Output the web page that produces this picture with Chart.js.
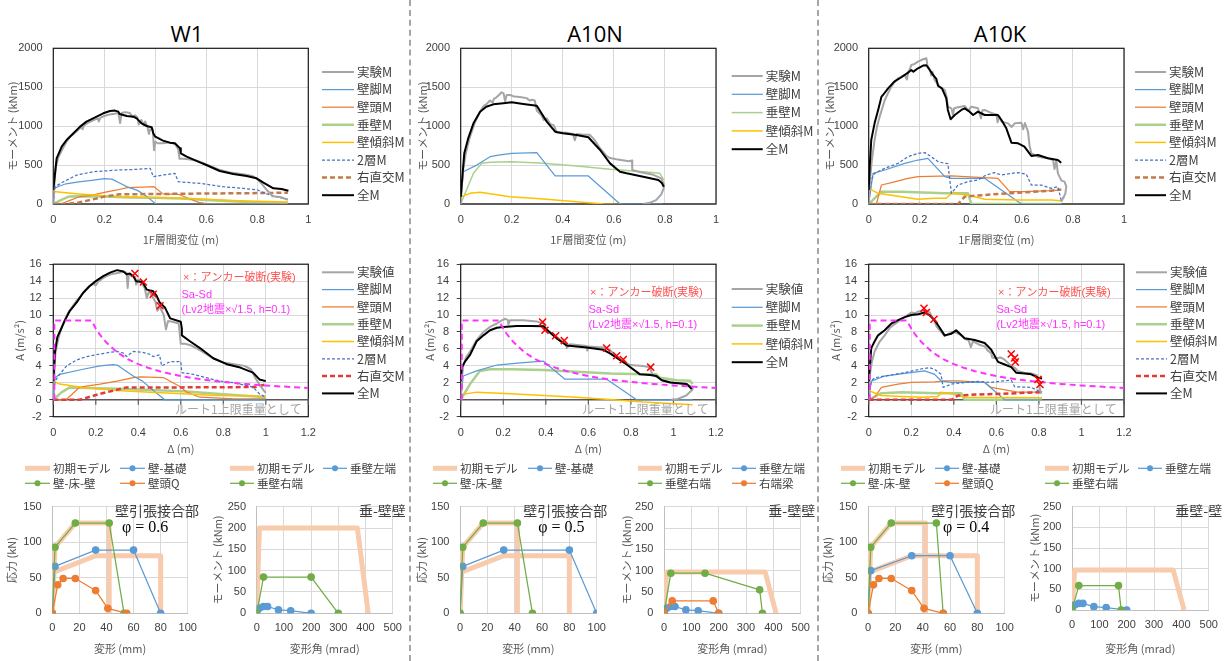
<!DOCTYPE html>
<html lang="ja">
<head>
<meta charset="utf-8">
<script src="https://cdn.jsdelivr.net/npm/chart.js@4.4.1/dist/chart.umd.min.js"></script>
<style>
  html, body { margin: 0; padding: 0; background: #fff; }
  body { width: 1226px; height: 661px; overflow: hidden; position: relative; font-family: "Noto Sans CJK JP", sans-serif; }
  canvas { position: absolute; }
  .ttl { position: absolute; top: 18px; line-height: 26px; font: 22px "Open Sans", "Liberation Sans", Arial, sans-serif; color: #000; transform: translateX(-50%); white-space: nowrap; }
  .sep { position: absolute; top: 0; width: 0; height: 661px; border-left: 2px dashed #a6a6a6; }
</style>
</head>
<body>
<div class="ttl" style="left:187px">W1</div>
<div class="ttl" style="left:595px">A10N</div>
<div class="ttl" style="left:1000px">A10K</div>
<div class="sep" style="left:409px"></div>
<div class="sep" style="left:817px"></div>
<script>
// ---------------- W1 : moment vs 1F drift (m, kNm) ----------------
const w1ExpM = [[0,0],[0.005,300],[0.01,480],[0.02,600],[0.035,700],[0.05,790],[0.065,860],[0.08,900],[0.1,960],[0.11,990],[0.115,960],[0.12,1010],[0.14,1050],[0.16,1080],[0.175,1100],[0.178,1060],[0.185,1110],[0.2,1130],[0.22,1150],[0.24,1160],[0.255,1170],[0.262,1040],[0.268,1170],[0.28,1180],[0.29,1175],[0.3,1170],[0.31,1120],[0.32,1140],[0.33,1110],[0.335,1020],[0.345,1080],[0.355,1010],[0.36,1060],[0.37,980],[0.375,900],[0.38,960],[0.39,960],[0.395,690],[0.4,800],[0.41,780],[0.43,780],[0.45,790],[0.47,780],[0.48,760],[0.49,700],[0.495,580],[0.51,580],[0.53,575],[0.56,560],[0.6,510],[0.65,440],[0.7,400],[0.75,380],[0.78,360],[0.8,320],[0.82,250],[0.84,170],[0.86,100],[0.89,90],[0.92,55]];
const w1FootM = [[0,0],[0.005,200],[0.02,225],[0.05,260],[0.1,285],[0.15,305],[0.2,325],[0.23,320],[0.26,270],[0.29,220],[0.33,175],[0.37,90],[0.4,5],[0.41,0],[0.92,0]];
const w1HeadM = [[0,0],[0.03,0],[0.06,40],[0.1,90],[0.15,110],[0.2,150],[0.25,180],[0.29,210],[0.35,218],[0.395,222],[0.43,130],[0.49,125],[0.51,100],[0.57,20],[0.6,5],[0.92,0]];
const w1HangM = [[0,0],[0.03,50],[0.06,95],[0.1,100],[0.2,95],[0.3,85],[0.4,80],[0.5,70],[0.6,50],[0.7,35],[0.8,20],[0.92,10]];
const w1TiltM = [[0,160],[0.05,145],[0.1,130],[0.2,105],[0.3,90],[0.4,80],[0.5,75],[0.6,60],[0.7,45],[0.8,35],[0.92,25]];
const w1Story2M = [[0,0],[0.007,222],[0.04,286],[0.092,372],[0.157,414],[0.25,436],[0.327,445],[0.38,458],[0.392,350],[0.43,372],[0.477,394],[0.49,286],[0.575,265],[0.667,222],[0.745,201],[0.8,180],[0.85,115],[0.9,73],[0.92,60]];
const w1OrthoM = [[0,0],[0.05,0],[0.1,20],[0.15,55],[0.2,95],[0.26,125],[0.4,128],[0.6,135],[0.8,140],[0.92,145]];
const w1TotalM = [[0,180],[0.013,587],[0.033,736],[0.052,822],[0.072,886],[0.105,994],[0.13,1058],[0.17,1122],[0.196,1165],[0.222,1195],[0.242,1200],[0.255,1186],[0.26,1156],[0.288,1130],[0.314,1122],[0.327,1100],[0.346,1036],[0.366,1002],[0.386,985],[0.392,908],[0.4,865],[0.43,814],[0.457,788],[0.477,780],[0.497,715],[0.5,651],[0.523,608],[0.575,535],[0.6,501],[0.653,424],[0.706,385],[0.758,360],[0.797,330],[0.824,274],[0.863,201],[0.895,193],[0.922,171]];

// ---------------- W1 : acceleration A vs Δ (m, m/s²) ----------------
const w1AExp = [[0,0],[0.005,3.5],[0.01,5.5],[0.02,6.8],[0.03,7.8],[0.05,9.2],[0.07,10.3],[0.09,11.0],[0.11,11.7],[0.13,12.3],[0.15,12.9],[0.17,13.4],[0.19,13.7],[0.2,13.5],[0.21,13.9],[0.23,14.3],[0.25,14.6],[0.27,14.8],[0.29,14.9],[0.31,15.0],[0.33,15.1],[0.345,15.0],[0.35,13.2],[0.355,14.8],[0.37,14.6],[0.385,14.5],[0.39,13.6],[0.4,14.2],[0.42,13.6],[0.43,13.2],[0.44,12.0],[0.45,12.8],[0.47,12.0],[0.48,11.6],[0.49,10.5],[0.5,11.0],[0.52,10.0],[0.53,8.3],[0.54,9.3],[0.56,9.2],[0.59,9.0],[0.6,6.6],[0.62,6.6],[0.65,6.4],[0.7,5.7],[0.75,4.9],[0.8,4.4],[0.85,4.2],[0.9,4.0],[0.93,3.6],[0.95,2.6],[0.97,1.8],[0.99,1.1],[1.0,0.8]];
const w1AFoot = [[0,0],[0.008,2.6],[0.03,3.0],[0.14,3.6],[0.22,4.0],[0.28,4.15],[0.3,4.1],[0.376,2.8],[0.42,2.2],[0.47,1.1],[0.525,0],[1.0,0]];
const w1AHead = [[0,0],[0.06,0],[0.125,1.5],[0.22,1.85],[0.3,2.2],[0.376,2.6],[0.41,2.7],[0.52,2.6],[0.6,1.5],[0.627,0.9],[0.69,0.3],[0.85,0.1],[1.0,0.1]];
const w1AHang = [[0,0],[0.04,0.9],[0.078,1.46],[0.157,1.4],[0.3,1.3],[0.455,1.15],[0.61,1.0],[0.77,0.7],[1.0,0.3]];
const w1ATilt = [[0,2.2],[0.03,1.85],[0.14,1.46],[0.3,1.08],[0.455,0.9],[0.61,0.7],[0.77,0.5],[1.0,0.4]];
const w1AStory2 = [[0,0],[0.008,2.2],[0.03,3.0],[0.063,4.0],[0.11,4.7],[0.157,5.1],[0.2,5.3],[0.267,5.6],[0.3,5.7],[0.33,5.5],[0.345,5.1],[0.376,5.7],[0.42,5.6],[0.45,5.4],[0.47,5.1],[0.5,5.3],[0.51,4.0],[0.55,4.5],[0.6,4.5],[0.605,3.2],[0.66,3.0],[0.72,2.6],[0.785,2.2],[0.85,2.0],[0.94,1.5],[0.97,0.7],[1.0,0.3]];
const w1AOrtho = [[0,0],[0.125,0],[0.22,0.7],[0.345,1.46],[0.6,1.46],[0.95,1.5],[1.0,1.8]];
const w1ATotal = [[0,2.2],[0.008,5.7],[0.019,7.4],[0.03,8.0],[0.055,9.4],[0.078,10.5],[0.11,11.5],[0.14,12.6],[0.17,13.4],[0.2,14.0],[0.235,14.6],[0.267,15.0],[0.3,15.3],[0.33,15.15],[0.345,14.8],[0.36,14.9],[0.376,14.6],[0.39,14.0],[0.42,13.9],[0.44,13.0],[0.47,12.8],[0.486,12.3],[0.5,11.5],[0.525,10.9],[0.55,9.6],[0.6,9.2],[0.605,8.4],[0.605,7.6],[0.643,6.9],[0.69,6.1],[0.753,4.9],[0.816,4.2],[0.88,3.8],[0.94,3.2],[0.97,2.4],[1.0,2.2]];
const w1AAnchor = [[0.384,14.9],[0.424,13.9],[0.47,12.45],[0.502,11.1]];

// Sa-Sd demand curve (Lv2 x √1.5, h = 0.1)
const saSd = [[0.005,0],[0.005,9.35],[0.18,9.35],[0.2,8.4],[0.22,7.65],[0.25,6.75],[0.3,5.6],[0.35,4.8],[0.4,4.2],[0.45,3.74],[0.5,3.37],[0.55,3.06],[0.6,2.8],[0.65,2.59],[0.7,2.4],[0.75,2.24],[0.8,2.1],[0.9,1.87],[1.0,1.68],[1.1,1.53],[1.2,1.4]];

// ---------------- A10N ----------------
const a10nExpM = [[0,0],[0.005,250],[0.01,450],[0.02,650],[0.035,850],[0.056,1050],[0.075,1180],[0.09,1260],[0.1,1280],[0.115,1330],[0.125,1300],[0.13,1350],[0.14,1370],[0.15,1400],[0.16,1435],[0.168,1420],[0.174,1320],[0.18,1400],[0.193,1400],[0.21,1380],[0.232,1375],[0.258,1360],[0.27,1330],[0.28,1340],[0.29,1330],[0.298,1200],[0.31,1160],[0.317,1140],[0.325,1080],[0.337,1100],[0.35,1030],[0.365,1010],[0.376,920],[0.39,920],[0.415,915],[0.44,900],[0.447,820],[0.454,900],[0.48,890],[0.505,890],[0.52,840],[0.533,780],[0.545,720],[0.558,670],[0.57,620],[0.585,590],[0.61,575],[0.64,560],[0.66,550],[0.671,560],[0.672,436],[0.7,410],[0.75,380],[0.785,330],[0.795,260],[0.795,200],[0.785,120],[0.765,50],[0.74,15],[0.714,0]];
const a10nFootM = [[0,0],[0.01,415],[0.063,500],[0.115,608],[0.154,630],[0.2,651],[0.298,660],[0.37,360],[0.5,360],[0.624,0],[0.79,0]];
const a10nHangM = [[0,0],[0.05,394],[0.082,522],[0.115,535],[0.2,544],[0.324,522],[0.454,488],[0.585,445],[0.715,415],[0.78,394],[0.796,308]];
const a10nTiltM = [[0,94],[0.037,137],[0.076,150],[0.193,94],[0.324,64],[0.454,30],[0.56,0],[0.65,-10],[0.79,-30]];
const a10nTotalM = [[0,90],[0.014,651],[0.03,850],[0.05,1036],[0.076,1186],[0.1,1250],[0.128,1280],[0.167,1293],[0.2,1306],[0.245,1285],[0.298,1263],[0.337,1058],[0.37,929],[0.4,908],[0.454,887],[0.5,857],[0.546,694],[0.585,522],[0.624,415],[0.65,394],[0.715,351],[0.774,308],[0.787,274],[0.796,223]];

const a10nAExp = [[0,0],[0.005,2.5],[0.012,4.0],[0.025,5.0],[0.044,5.7],[0.075,7.05],[0.107,8.0],[0.138,8.6],[0.17,9.0],[0.193,9.37],[0.21,9.56],[0.222,9.4],[0.224,8.9],[0.232,9.37],[0.295,9.37],[0.357,9.25],[0.389,9.0],[0.404,8.2],[0.435,7.6],[0.482,6.86],[0.495,6.6],[0.498,6.1],[0.514,6.55],[0.592,6.36],[0.595,5.8],[0.6,6.3],[0.67,6.17],[0.7,5.9],[0.733,5.1],[0.764,4.55],[0.796,4.1],[0.858,3.97],[0.89,3.85],[0.9,3.0],[0.95,2.3],[1.0,2.0],[1.06,1.85],[1.09,1.5],[1.09,1.2],[1.06,0.5],[1.02,0.1],[0.99,0]];
const a10nAFoot = [[0,0],[0.012,2.8],[0.075,3.4],[0.17,4.1],[0.28,4.36],[0.389,4.55],[0.49,2.43],[0.686,2.43],[0.827,0],[1.09,0]];
const a10nAHang = [[0,0],[0.044,1.85],[0.09,3.4],[0.138,3.6],[0.232,3.6],[0.389,3.5],[0.545,3.3],[0.702,3.1],[0.858,3.0],[0.92,3.0],[0.937,2.6],[1.015,2.3],[1.078,2.24],[1.09,1.85]];
const a10nATilt = [[0,0.6],[0.075,0.9],[0.232,0.7],[0.389,0.5],[0.545,0.3],[0.7,0.04],[0.858,-0.27],[1.09,-0.58]];
const a10nATotal = [[0,2.2],[0.005,3.8],[0.02,4.5],[0.044,5.3],[0.075,6.9],[0.107,7.6],[0.138,8.2],[0.17,8.5],[0.2,8.6],[0.263,8.7],[0.326,8.7],[0.389,8.67],[0.404,8.3],[0.451,7.25],[0.498,6.4],[0.592,6.17],[0.67,5.9],[0.7,5.5],[0.78,4.16],[0.843,3.0],[0.89,2.93],[0.92,2.8],[0.945,2.3],[0.984,2.04],[1.062,1.85],[1.086,1.27]];
const a10nAAnchor = [[0.385,9.17],[0.396,8.2],[0.446,7.55],[0.487,6.98],[0.686,6.1],[0.733,5.2],[0.764,4.74],[0.893,3.85]];

// ---------------- A10K ----------------
const a10kExpM = [[0,0],[0.005,300],[0.012,550],[0.023,822],[0.033,1000],[0.043,1122],[0.063,1336],[0.075,1420],[0.089,1508],[0.1,1560],[0.115,1615],[0.13,1640],[0.141,1658],[0.15,1600],[0.155,1700],[0.16,1722],[0.167,1786],[0.18,1800],[0.193,1829],[0.213,1859],[0.226,1872],[0.23,1780],[0.24,1720],[0.245,1650],[0.25,1700],[0.258,1593],[0.27,1540],[0.28,1500],[0.29,1480],[0.298,1465],[0.305,1380],[0.31,1250],[0.324,1229],[0.33,1150],[0.335,1230],[0.35,1242],[0.376,1259],[0.39,1200],[0.402,1250],[0.428,1229],[0.44,1100],[0.445,1200],[0.454,1208],[0.48,1170],[0.5,1150],[0.505,1050],[0.51,1130],[0.52,1058],[0.546,1036],[0.56,990],[0.572,1036],[0.598,1045],[0.605,960],[0.612,1040],[0.617,994],[0.624,929],[0.63,750],[0.637,651],[0.663,608],[0.702,587],[0.722,565],[0.728,450],[0.735,560],[0.741,394],[0.755,300],[0.767,287],[0.774,223],[0.77,130],[0.761,73],[0.754,30]];
const a10kFootM = [[0,0],[0.017,394],[0.063,437],[0.141,522],[0.193,565],[0.232,587],[0.298,351],[0.324,330],[0.454,330],[0.598,0],[0.754,0]];
const a10kHeadM = [[0,0],[0.03,0],[0.05,244],[0.089,274],[0.154,330],[0.193,351],[0.324,360],[0.506,330],[0.552,158],[0.61,158],[0.715,171],[0.754,180]];
const a10kHangM = [[0,0],[0.05,158],[0.128,158],[0.298,137],[0.389,137],[0.402,0],[0.754,0]];
const a10kTiltM = [[0,200],[0.037,137],[0.128,94],[0.193,60],[0.258,73],[0.304,73],[0.324,137],[0.389,116],[0.454,60],[0.585,51],[0.715,51],[0.754,43]];
const a10kStory2M = [[0,0],[0.01,308],[0.023,394],[0.063,458],[0.115,522],[0.154,608],[0.193,651],[0.22,660],[0.245,608],[0.272,544],[0.298,522],[0.31,520],[0.324,137],[0.35,244],[0.389,287],[0.428,308],[0.46,373],[0.493,403],[0.52,373],[0.559,394],[0.585,403],[0.617,385],[0.637,244],[0.676,244],[0.715,201],[0.741,223],[0.754,51],[0.767,94]];
const a10kOrthoM = [[0,0],[0.35,0],[0.376,94],[0.454,116],[0.585,146],[0.715,171],[0.754,188]];
const a10kTotalM = [[0,180],[0.004,480],[0.01,822],[0.023,1036],[0.037,1208],[0.05,1379],[0.056,1400],[0.076,1486],[0.1,1572],[0.128,1628],[0.154,1687],[0.167,1722],[0.175,1700],[0.193,1743],[0.213,1778],[0.226,1782],[0.239,1722],[0.252,1658],[0.265,1606],[0.272,1516],[0.287,1486],[0.304,1358],[0.31,1208],[0.321,1088],[0.337,1143],[0.363,1208],[0.376,1229],[0.395,1186],[0.409,1143],[0.428,1186],[0.454,1143],[0.48,1143],[0.506,1143],[0.52,1079],[0.539,972],[0.559,788],[0.585,780],[0.61,737],[0.637,617],[0.663,630],[0.702,587],[0.741,565],[0.754,531]];

const a10kAExp = [[0,0],[0.006,3],[0.015,4.5],[0.028,5.7],[0.05,6.8],[0.075,7.6],[0.1,8.5],[0.138,9.2],[0.17,9.8],[0.2,10.3],[0.22,10.2],[0.23,10.4],[0.25,10.5],[0.27,10.5],[0.287,10.3],[0.3,9.6],[0.31,9.2],[0.32,8.6],[0.33,8.3],[0.345,7.9],[0.357,7.5],[0.37,7.7],[0.389,8.0],[0.411,7.9],[0.43,7.7],[0.451,7.2],[0.47,7.0],[0.48,6.2],[0.49,6.9],[0.52,6.5],[0.545,6.3],[0.56,5.8],[0.576,5.5],[0.58,5.0],[0.6,4.9],[0.62,5.0],[0.64,4.7],[0.67,4.0],[0.69,3.7],[0.7,3.4],[0.73,3.2],[0.764,3.1],[0.79,2.9],[0.8,2.0],[0.805,1.2],[0.81,0.7]];
const a10kAFoot = [[0,0],[0.012,2.2],[0.075,2.8],[0.17,3.1],[0.263,3.4],[0.31,3.0],[0.34,2.24],[0.389,2.04],[0.545,2.04],[0.639,0],[0.815,0]];
const a10kAHead = [[0,0],[0.028,0.3],[0.06,1.46],[0.138,1.85],[0.2,2.04],[0.31,2.12],[0.357,2.24],[0.42,2.24],[0.545,2.04],[0.576,1.46],[0.7,0.89],[0.815,0.9]];
const a10kAHang = [[0,0],[0.06,0.77],[0.154,0.89],[0.326,0.77],[0.435,0.77],[0.451,0],[0.815,0]];
const a10kATilt = [[0,1.08],[0.06,0.5],[0.154,0.39],[0.25,0.3],[0.326,0.39],[0.34,0.89],[0.389,0.7],[0.451,0.3],[0.6,0.28],[0.815,0.23]];
const a10kAStory2 = [[0,0],[0.012,2.2],[0.028,2.6],[0.075,2.8],[0.17,3.2],[0.25,3.66],[0.287,3.78],[0.31,3.6],[0.34,3.0],[0.35,1.46],[0.389,1.85],[0.451,2.04],[0.514,2.16],[0.57,2.04],[0.639,2.24],[0.67,2.3],[0.686,1.54],[0.764,1.46],[0.796,1.08],[0.815,0.9]];
const a10kAOrtho = [[0,0],[0.389,0],[0.42,0.5],[0.5,0.62],[0.62,0.7],[0.815,0.9]];
const a10kATotal = [[0,2.2],[0.012,6.1],[0.028,6.9],[0.044,7.6],[0.075,8.2],[0.107,9.0],[0.138,9.4],[0.17,9.75],[0.2,10.0],[0.232,10.1],[0.263,10.3],[0.287,9.95],[0.31,9.4],[0.326,8.8],[0.357,7.6],[0.389,7.8],[0.411,8.2],[0.451,7.25],[0.498,7.05],[0.545,6.7],[0.576,5.9],[0.608,4.47],[0.639,4.16],[0.67,3.85],[0.693,3.2],[0.733,3.1],[0.764,3.0],[0.796,2.6],[0.815,2.5]];
const a10kAAnchor = [[0.26,10.8],[0.271,10.3],[0.307,9.5],[0.67,5.4],[0.686,4.93],[0.689,4.47],[0.796,2.4],[0.805,1.8]];

// ---------------- spring models: wall tension joint (mm, kN) ----------------
const initJointHigh = [[0,0],[2,93],[17,127],[42,127],[42,0]];
const initJointLow = [[0,0],[1,58],[32,81],[80,81],[80,0]];
const w1WallBase = [[0,0],[2,66],[32,89],[60,89],[80,0]];
const w1WallFloor = [[0,0],[2,93],[17,127],[42,127],[53,0]];
const w1HeadQ = [[0,0],[4,40],[8,49],[17,49],[32,32],[41,7],[55,0]];
const a10nWallBase = [[0,0],[2,66],[32,89],[80,89],[100,0]];
const a10nWallFloor = [[0,0],[2,93],[17,127],[42,127],[53,0]];
const a10kWallBase = [[0,0],[2,60],[32,81],[60,81],[80,0]];
const a10kWallFloor = [[0,0],[2,93],[17,127],[50,127],[55,0]];
const a10kHeadQ = [[0,0],[4,40],[8,49],[17,49],[32,32],[41,7],[55,0]];

// ---------------- spring models: hanging wall (mrad, kNm) ----------------
const w1InitRot = [[0,0],[10,200],[370,200],[410,0]];
const a10InitRot = [[0,0],[10,97],[370,97],[410,0]];
const hangLeftEnd = [[0,0],[10,12],[25,16],[40,16],[80,8],[125,6],[200,0]];
const w1HangRight = [[0,0],[25,85],[200,85],[300,0]];
const a10nHangRight = [[0,0],[25,94],[150,94],[350,55],[360,0]];
const a10nBeamRight = [[0,0],[30,29],[180,29],[200,0]];
const a10kHangRight = [[0,0],[25,59],[170,59],[180,0]];

// ---------------- drawing helpers ----------------
const JP = '"Noto Sans CJK JP", sans-serif';
const MIX = '"Liberation Sans", "Noto Sans CJK JP", sans-serif';
const NUM = '"Liberation Sans", Arial, sans-serif';
const fmt = v => String(Math.round(v * 1000) / 1000);
const xy = pairs => pairs.map(p => ({ x: p[0], y: p[1] }));

function series(label, pairs, style) {
  return Object.assign({ label, data: xy(pairs), showLine: true, pointRadius: 0, pointHoverRadius: 0,
    borderJoinStyle: 'round', fill: false }, style);
}
const S = {
  exp:    { borderColor: '#a5a5a5', borderWidth: 2, order: 2 },
  foot:   { borderColor: '#5b9bd5', borderWidth: 1.25, order: 5 },
  head:   { borderColor: '#ed7d31', borderWidth: 1.25, order: 5 },
  hang:   { borderColor: '#a9d18e', borderWidth: 2.5, order: 6 },
  tilt:   { borderColor: '#ffc000', borderWidth: 1.5, order: 4 },
  story2: { borderColor: '#4472c4', borderWidth: 1.25, borderDash: [3, 2], order: 3 },
  orthoM: { borderColor: '#c27a4a', borderWidth: 2.5, borderDash: [5, 3], order: 3 },
  orthoA: { borderColor: '#e03c3c', borderWidth: 2.5, borderDash: [5, 3], order: 3 },
  total:  { borderColor: '#000000', borderWidth: 2, order: 1 },
  sasd:   { borderColor: '#ff33ff', borderWidth: 2, borderDash: [6, 4], order: 0.5, legendHide: true },
  anchor: { showLine: false, pointStyle: 'crossRot', pointRadius: 5, borderColor: '#ff0000', borderWidth: 1.5, order: 0, legendHide: true },
  init:   { borderColor: '#f8cbad', borderWidth: 5, order: 9 },
  initX:  { borderColor: '#f8cbad', borderWidth: 5, order: 9, legendHide: true },
  mBlue:  { borderColor: '#5b9bd5', pointBackgroundColor: '#5b9bd5', pointBorderColor: '#5b9bd5', borderWidth: 1.25, pointRadius: 3.2, order: 3 },
  mGreen: { borderColor: '#70ad47', pointBackgroundColor: '#70ad47', pointBorderColor: '#70ad47', borderWidth: 1.25, pointRadius: 3.2, order: 2 },
  mOrange:{ borderColor: '#ed7d31', pointBackgroundColor: '#ed7d31', pointBorderColor: '#ed7d31', borderWidth: 1.25, pointRadius: 3.2, order: 1 }
};

// frame, zero axis, legend and notes drawn around each panel
const panelPlugin = {
  id: 'panel',
  beforeDatasetsDraw(chart) {
    const p = chart.canvas._panel; if (!p) return;
    const { ctx, chartArea: a, scales } = chart;
    ctx.save();
    if (p.frame) {
      ctx.strokeStyle = p.frame; ctx.lineWidth = 1.2;
      ctx.strokeRect(a.left, a.top, a.right - a.left, a.bottom - a.top);
      const y0 = scales.y.getPixelForValue(0);
      ctx.strokeStyle = '#595959'; ctx.lineWidth = 1.5;
      ctx.beginPath(); ctx.moveTo(a.left, y0); ctx.lineTo(a.right, y0); ctx.stroke();
      if (p.zeroTicks) {
        ctx.lineWidth = 1.2; ctx.beginPath();
        scales.x.ticks.forEach(t => { const x = scales.x.getPixelForValue(t.value); ctx.moveTo(x, y0 - 1); ctx.lineTo(x, y0 + 5); });
        ctx.stroke();
      }
    }
    ctx.restore();
  },
  afterDraw(chart) {
    const p = chart.canvas._panel; if (!p) return;
    const ctx = chart.ctx;
    ctx.save();
    (p.notes || []).forEach(n => {
      ctx.font = n.font; ctx.fillStyle = n.color; ctx.textBaseline = 'middle'; ctx.textAlign = 'left';
      ctx.fillText(n.text, n.x, n.y);
    });
    const L = p.legend;
    if (L) {
      const items = chart.data.datasets.filter(d => !d.legendHide);
      ctx.font = L.font; ctx.textBaseline = 'middle'; ctx.textAlign = 'left';
      items.forEach((d, i) => {
        const col = i % L.perRow, row = Math.floor(i / L.perRow);
        const x = L.x + col * L.dx, y = L.y + row * L.dy;
        ctx.strokeStyle = d.borderColor; ctx.lineWidth = d.borderWidth; ctx.setLineDash(d.borderDash || []);
        ctx.beginPath(); ctx.moveTo(x, y); ctx.lineTo(x + L.w, y); ctx.stroke();
        ctx.setLineDash([]);
        if (d.pointRadius > 0) {
          ctx.fillStyle = d.pointBackgroundColor;
          ctx.beginPath(); ctx.arc(x + L.w / 2, y, 3, 0, Math.PI * 2); ctx.fill();
        }
        ctx.fillStyle = '#404040';
        ctx.fillText(d.label, x + L.w + 3, y);
      });
    }
    ctx.restore();
  }
};

function panel(cfg) {
  const b = cfg.box, a = cfg.area;
  const cv = document.createElement('canvas');
  cv.width = b.w; cv.height = b.h;
  cv.style.left = b.x + 'px'; cv.style.top = b.y + 'px';
  cv.style.width = b.w + 'px'; cv.style.height = b.h + 'px';
  document.body.appendChild(cv);
  const lh = 11 * 1.2;
  const rel = o => Object.assign({}, o, { x: o.x - b.x, y: o.y - b.y });
  cv._panel = {
    frame: cfg.frame, zeroTicks: cfg.zeroTicks,
    notes: (cfg.notes || []).map(rel),
    legend: cfg.legend ? rel(cfg.legend) : null
  };
  const light = !cfg.frame;
  new Chart(cv, {
    type: 'scatter',
    data: { datasets: cfg.datasets },
    options: {
      responsive: false, animation: false, devicePixelRatio: 1,
      layout: { padding: { left: 0, top: a.t - b.y, right: b.x + b.w - a.r, bottom: 0 } },
      plugins: { legend: { display: false }, tooltip: { enabled: false }, title: { display: false } },
      scales: {
        x: {
          type: 'linear', min: cfg.x.min, max: cfg.x.max,
          ticks: { stepSize: cfg.x.step, callback: fmt, font: { family: NUM, size: 11 }, color: '#404040', padding: cfg.x.pad, maxRotation: 0, autoSkip: false },
          grid: { color: '#d9d9d9', drawTicks: false },
          border: { display: light, color: '#bfbfbf' },
          title: { display: true, text: cfg.x.title, font: { family: JP, size: 11 }, color: '#595959',
                   padding: { top: 0, bottom: Math.max(0, b.y + b.h - cfg.x.titleY - lh / 2) } },
          afterFit: s => { s.height = b.y + b.h - a.b; }
        },
        y: {
          type: 'linear', min: cfg.y.min, max: cfg.y.max,
          ticks: { stepSize: cfg.y.step, callback: fmt, font: { family: NUM, size: 11 }, color: '#404040', padding: cfg.y.pad },
          grid: { color: '#d9d9d9', drawTicks: !!cfg.y.tick, tickLength: cfg.y.tick || 0, tickColor: '#404040' },
          border: { display: light, color: '#bfbfbf' },
          title: { display: true, text: cfg.y.title, font: { family: JP, size: 11 }, color: '#595959',
                   padding: { top: Math.max(0, cfg.y.titleX - b.x - lh / 2), bottom: 0 } },
          afterFit: s => { s.width = a.l - b.x; }
        }
      }
    },
    plugins: [panelPlugin]
  });
}

const NOTE_RED = { font: '11px ' + MIX, color: '#ff5050' };
const NOTE_MAG = { font: '11px ' + MIX, color: '#ff33ff' };
const NOTE_GRAY = { font: '12px ' + JP, color: '#a6a6a6' };
const NOTE_JOINT = { font: '14px ' + JP, color: '#404040' };
const NOTE_PHI = { font: '16px "Liberation Serif", "DejaVu Serif", serif', color: '#000' };
const n = (text, x, y, st) => Object.assign({ text, x, y }, st);

const X_TOP = { min: 0, max: 1, step: 0.2, pad: 9.4, title: '1F層間変位 (m)', titleY: 240 };
const X_MID = { min: 0, max: 1.2, step: 0.2, pad: 9.4, title: 'Δ (m)', titleY: 449 };
const Y_TOP = (tx) => ({ min: 0, max: 2000, step: 500, pad: 10.6, title: 'モーメント (kNm)', titleX: tx });
const Y_MID = (tx) => ({ min: -2, max: 16, step: 2, pad: 7.6, tick: 4, title: 'A (m/s²)', titleX: tx });
const X_JNT = { min: 0, max: 100, step: 20, pad: 8.1, title: '変形 (mm)', titleY: 649 };
const X_ROT = { min: 0, max: 500, step: 100, pad: 8.1, title: '変形角 (mrad)', titleY: 649 };
const Y_JNT = (tx) => ({ min: 0, max: 150, step: 50, pad: 10.6, title: '応力 (kN)', titleX: tx });
const Y_ROT = (tx) => ({ min: 0, max: 250, step: 50, pad: 10.6, title: 'モーメント (kNm)', titleX: tx });
const LEG = (x, y, dy, w) => ({ x, y, dx: 0, dy, w, perRow: 1, font: '12.5px ' + JP });
const LEG2 = (x, y, dx, w) => ({ x, y, dx, dy: 15, w, perRow: 2, font: '11.5px ' + JP });

// ---- row 1: moment curves ----
panel({ box: { x: 0, y: 0, w: 408, h: 250 }, area: { l: 53.3, t: 48.3, r: 308.3, b: 204 }, frame: '#1a1a1a',
  x: X_TOP, y: Y_TOP(13), legend: LEG(322, 72, 17.6, 32),
  datasets: [series('実験M', w1ExpM, S.exp), series('壁脚M', w1FootM, S.foot), series('壁頭M', w1HeadM, S.head),
    series('垂壁M', w1HangM, S.hang), series('壁傾斜M', w1TiltM, S.tilt), series('2層M', w1Story2M, S.story2),
    series('右直交M', w1OrthoM, S.orthoM), series('全M', w1TotalM, S.total)] });
panel({ box: { x: 410, y: 0, w: 408, h: 250 }, area: { l: 460.7, t: 48.3, r: 716, b: 204 }, frame: '#1a1a1a',
  x: X_TOP, y: Y_TOP(423), legend: LEG(731.7, 76, 18.3, 31),
  datasets: [series('実験M', a10nExpM, S.exp), series('壁脚M', a10nFootM, S.foot), series('垂壁M', a10nHangM, Object.assign({}, S.hang, { borderWidth: 1.5 })),
    series('壁傾斜M', a10nTiltM, S.tilt), series('全M', a10nTotalM, S.total)] });
panel({ box: { x: 818, y: 0, w: 408, h: 250 }, area: { l: 868.7, t: 48.3, r: 1124, b: 204 }, frame: '#1a1a1a',
  x: X_TOP, y: Y_TOP(830), legend: LEG(1135, 72, 17.6, 31),
  datasets: [series('実験M', a10kExpM, S.exp), series('壁脚M', a10kFootM, S.foot), series('壁頭M', a10kHeadM, S.head),
    series('垂壁M', a10kHangM, S.hang), series('壁傾斜M', a10kTiltM, S.tilt), series('2層M', a10kStory2M, S.story2),
    series('右直交M', a10kOrthoM, S.orthoM), series('全M', a10kTotalM, S.total)] });

// ---- row 2: acceleration vs displacement ----
const midNotes = (x0, xr, y0) => [
  n('×：アンカー破断(実験)', x0, y0, NOTE_RED),
  n('Sa-Sd', x0 - 1.5, y0 + 17, NOTE_MAG),
  n('(Lv2地震×√1.5, h=0.1)', x0 - 1.5, y0 + 32, NOTE_MAG),
  n('ルート1上限重量として', xr, 409, NOTE_GRAY)
];
panel({ box: { x: 0, y: 250, w: 408, h: 206 }, area: { l: 53.3, t: 261, r: 308.3, b: 416.7 }, frame: '#1a1a1a', zeroTicks: true,
  x: X_MID, y: Y_MID(20), legend: LEG(322, 272.3, 17.3, 32), notes: midNotes(183, 175, 278),
  datasets: [series('実験値', w1AExp, S.exp), series('壁脚M', w1AFoot, S.foot), series('壁頭M', w1AHead, S.head),
    series('垂壁M', w1AHang, S.hang), series('壁傾斜M', w1ATilt, S.tilt), series('2層M', w1AStory2, S.story2),
    series('右直交M', w1AOrtho, S.orthoA), series('全M', w1ATotal, S.total),
    series('Sa-Sd', saSd, S.sasd), series('アンカー破断', w1AAnchor, S.anchor)] });
panel({ box: { x: 410, y: 250, w: 408, h: 206 }, area: { l: 460.7, t: 261, r: 716, b: 416.7 }, frame: '#1a1a1a', zeroTicks: true,
  x: X_MID, y: Y_MID(430), legend: LEG(731.7, 289, 18.3, 31), notes: midNotes(590, 582, 293),
  datasets: [series('実験値', a10nAExp, S.exp), series('壁脚M', a10nAFoot, S.foot), series('垂壁M', a10nAHang, S.hang),
    series('壁傾斜M', a10nATilt, S.tilt), series('全M', a10nATotal, S.total),
    series('Sa-Sd', saSd, S.sasd), series('アンカー破断', a10nAAnchor, S.anchor)] });
panel({ box: { x: 818, y: 250, w: 408, h: 206 }, area: { l: 868.7, t: 261, r: 1124, b: 416.7 }, frame: '#1a1a1a', zeroTicks: true,
  x: X_MID, y: Y_MID(836), legend: LEG(1136, 272.3, 17.3, 31), notes: midNotes(998, 990, 293),
  datasets: [series('実験値', a10kAExp, S.exp), series('壁脚M', a10kAFoot, S.foot), series('壁頭M', a10kAHead, S.head),
    series('垂壁M', a10kAHang, S.hang), series('壁傾斜M', a10kATilt, S.tilt), series('2層M', a10kAStory2, S.story2),
    series('右直交M', a10kAOrtho, S.orthoA), series('全M', a10kATotal, S.total),
    series('Sa-Sd', saSd, S.sasd), series('アンカー破断', a10kAAnchor, S.anchor)] });

// ---- row 3: spring models ----
panel({ box: { x: 0, y: 456, w: 205, h: 205 }, area: { l: 52.3, t: 506.7, r: 189, b: 613.3 },
  x: X_JNT, y: Y_JNT(12), legend: LEG2(25, 468.3, 95, 25),
  notes: [n('壁引張接合部', 115, 511, NOTE_JOINT), n('φ = 0.6', 122, 528, NOTE_PHI)],
  datasets: [series('初期モデル', initJointHigh, S.init), series('壁-基礎', w1WallBase, S.mBlue),
    series('壁-床-壁', w1WallFloor, S.mGreen), series('壁頭Q', w1HeadQ, S.mOrange), series('初期モデル', initJointLow, S.initX)] });
panel({ box: { x: 205, y: 456, w: 205, h: 205 }, area: { l: 256.7, t: 506.7, r: 394.3, b: 613.3 },
  x: X_ROT, y: Y_ROT(218), legend: LEG2(230, 468.3, 93, 24),
  notes: [n('垂-壁壁', 359, 511, NOTE_JOINT)],
  datasets: [series('初期モデル', w1InitRot, S.init), series('垂壁左端', hangLeftEnd, S.mBlue), series('垂壁右端', w1HangRight, S.mGreen)] });
panel({ box: { x: 410, y: 456, w: 205, h: 205 }, area: { l: 460, t: 506.7, r: 596.7, b: 613.3 },
  x: X_JNT, y: Y_JNT(421.7), legend: LEG2(433, 468.3, 95, 24),
  notes: [n('壁引張接合部', 523.3, 511, NOTE_JOINT), n('φ = 0.5', 538.3, 528, NOTE_PHI)],
  datasets: [series('初期モデル', initJointHigh, S.init), series('壁-基礎', a10nWallBase, S.mBlue),
    series('壁-床-壁', a10nWallFloor, S.mGreen), series('初期モデル', initJointLow, S.initX)] });
panel({ box: { x: 615, y: 456, w: 203, h: 205 }, area: { l: 664, t: 506.7, r: 800.7, b: 613.3 },
  x: X_ROT, y: Y_ROT(626.7), legend: LEG2(638, 468.3, 94, 24),
  notes: [n('垂-壁壁', 768.3, 511, NOTE_JOINT)],
  datasets: [series('初期モデル', a10InitRot, S.init), series('垂壁左端', hangLeftEnd, S.mBlue),
    series('垂壁右端', a10nHangRight, S.mGreen), series('右端梁', a10nBeamRight, S.mOrange)] });
panel({ box: { x: 818, y: 456, w: 205, h: 205 }, area: { l: 868, t: 506.7, r: 1004.7, b: 613.3 },
  x: X_JNT, y: Y_JNT(828), legend: LEG2(841, 468.3, 94, 24),
  notes: [n('壁引張接合部', 931.3, 511, NOTE_JOINT), n('φ = 0.4', 943, 528, NOTE_PHI)],
  datasets: [series('初期モデル', initJointHigh, S.init), series('壁-基礎', a10kWallBase, S.mBlue),
    series('壁-床-壁', a10kWallFloor, S.mGreen), series('壁頭Q', a10kHeadQ, S.mOrange), series('初期モデル', initJointLow, S.initX)] });
panel({ box: { x: 1023, y: 456, w: 203, h: 205 }, area: { l: 1072, t: 506.7, r: 1208.7, b: 610 },
  x: X_ROT, y: Y_ROT(1034.7), legend: LEG2(1045, 468.3, 93, 24),
  notes: [n('垂壁-壁', 1175.3, 511, NOTE_JOINT)],
  datasets: [series('初期モデル', a10InitRot, S.init), series('垂壁左端', hangLeftEnd, S.mBlue), series('垂壁右端', a10kHangRight, S.mGreen)] });
</script>
</body>
</html>
